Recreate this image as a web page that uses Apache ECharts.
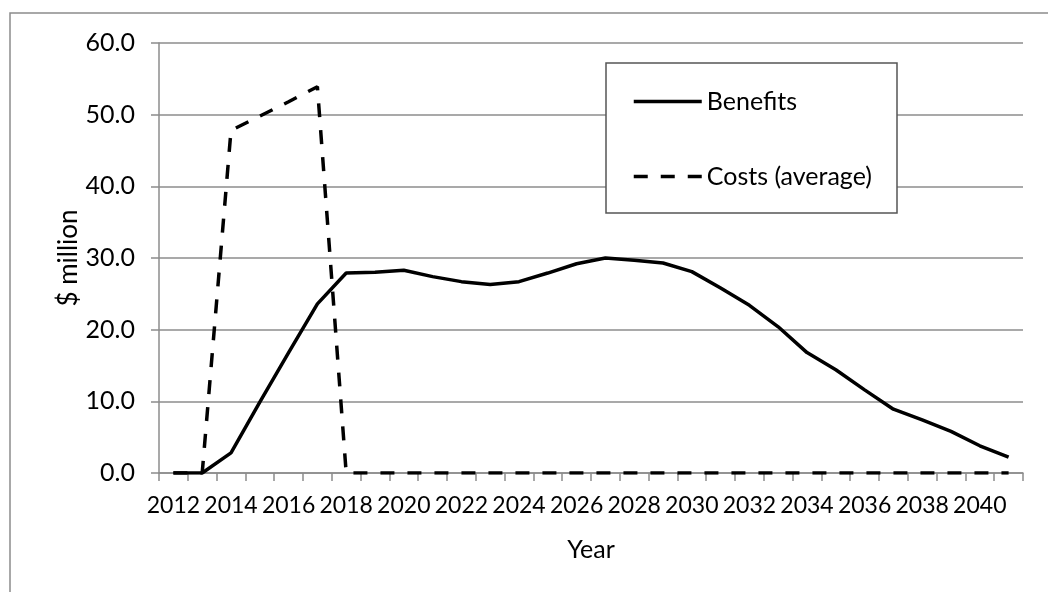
<!DOCTYPE html>
<html>
<head>
<meta charset="utf-8">
<script src="https://cdn.jsdelivr.net/npm/echarts@6/dist/echarts.min.js"></script>
<style>
html,body{margin:0;padding:0;background:#fff;}
#chart{width:1048px;height:592px;}
</style>
</head>
<body>
<div id="chart"></div>
<script>
var years = [];
for (var y = 2012; y <= 2041; y++) years.push(String(y));
var benefits = [0, 0, 2.8, 9.9, 16.8, 23.6, 27.9, 28.0, 28.3, 27.4, 26.7, 26.3, 26.7, 27.9, 29.2,
                30.0, 29.7, 29.3, 28.1, 25.8, 23.4, 20.4, 16.8, 14.4, 11.6, 8.9, 7.4, 5.8, 3.8, 2.2];
var costs = [0, 0, 47.8, 49.8, 51.8, 53.9, 0, 0, 0, 0, 0, 0, 0, 0, 0,
             0, 0, 0, 0, 0, 0, 0, 0, 0, 0, 0, 0, 0, 0, 0];
var seriesNames = ['Benefits', 'Costs (average)'];

var FONT = 'Lato';
var FS = 25;
var chart = echarts.init(document.getElementById('chart'), null, {renderer: 'canvas'});
chart.setOption({
  animation: false,
  backgroundColor: '#ffffff',
  textStyle: {fontFamily: FONT},
  graphic: [
    {type: 'rect', shape: {x: 10, y: 13, width: 1200, height: 800},
     style: {fill: 'none', stroke: '#8c8c8c', lineWidth: 1.5}, z: -1},
    {type: 'rect', shape: {x: 606, y: 63, width: 291, height: 150},
     style: {fill: '#ffffff', stroke: '#555555', lineWidth: 1.5}, z: 5}
  ],
  legend: {
    orient: 'vertical',
    left: 632, top: 89,
    padding: 0,
    itemWidth: 68, itemHeight: 14,
    itemGap: 50,
    z: 10,
    itemStyle: {opacity: 0},
    lineStyle: {width: 3.5},
    textStyle: {fontFamily: FONT, fontSize: FS, color: '#000'},
    data: seriesNames
  },
  grid: {left: 159, right: 25, top: 43, bottom: 119, containLabel: false},
  xAxis: {
    type: 'category',
    data: years,
    boundaryGap: true,
    name: 'Year',
    nameLocation: 'middle',
    nameGap: 64,
    nameTextStyle: {fontFamily: FONT, fontSize: FS, color: '#000'},
    axisLine: {show: true, lineStyle: {color: '#8c8c8c', width: 1.5}},
    axisTick: {show: true, interval: 0, length: 8, lineStyle: {color: '#8c8c8c', width: 1.5}},
    axisLabel: {interval: 1, margin: 21, fontFamily: FONT, fontSize: 23, color: '#000',
      hideOverlap: false, showMinLabel: true},
    splitLine: {show: false}
  },
  yAxis: {
    type: 'value',
    min: 0, max: 60, interval: 10,
    name: '$ million',
    nameLocation: 'middle',
    nameGap: 77,
    nameRotate: 90,
    nameMoveOverlap: false,
    nameTextStyle: {fontFamily: FONT, fontSize: FS + 1, color: '#000'},
    axisLine: {show: true, lineStyle: {color: '#8c8c8c', width: 1.5}},
    axisTick: {show: true, length: 8, lineStyle: {color: '#8c8c8c', width: 1.5}},
    axisLabel: {margin: 24, fontFamily: FONT, fontSize: FS, color: '#000',
      formatter: function (v) { return v.toFixed(1); }},
    splitLine: {show: true, lineStyle: {color: '#8c8c8c', width: 1.5}}
  },
  series: [
    {name: seriesNames[0], type: 'line', data: benefits, symbol: 'none',
     lineStyle: {color: '#000', width: 3.5, type: 'solid'}, itemStyle: {color: '#000'}, z: 3},
    {name: seriesNames[1], type: 'line', data: costs, symbol: 'none',
     lineStyle: {color: '#000', width: 3.5, type: [14, 13]}, itemStyle: {color: '#000'}, z: 3}
  ]
});
</script>
</body>
</html>
